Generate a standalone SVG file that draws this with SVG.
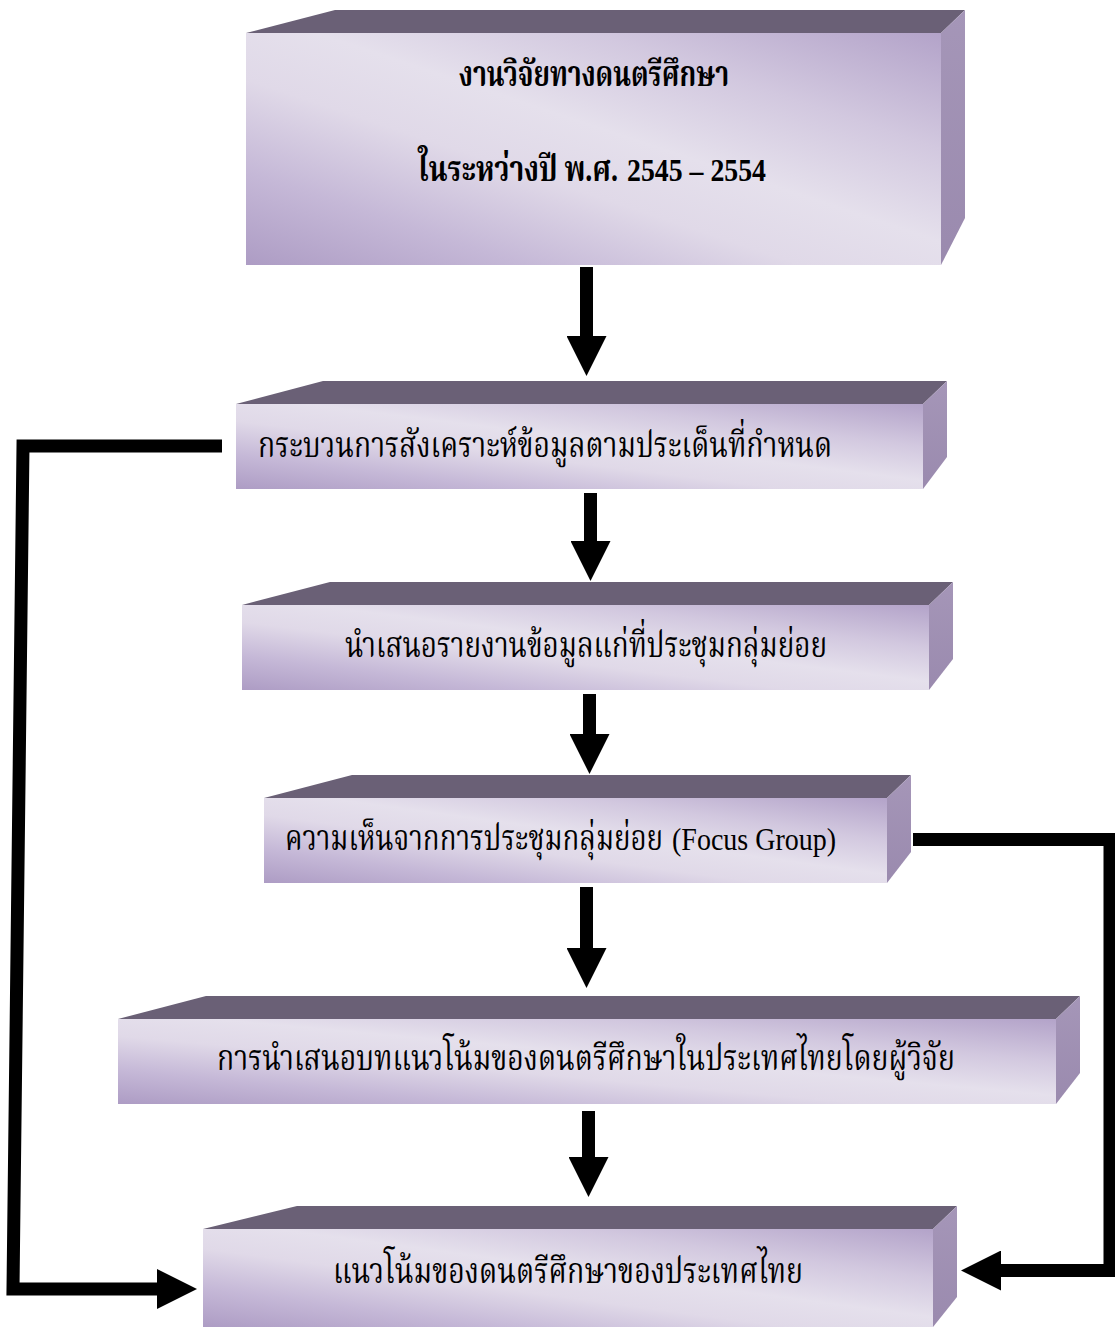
<svg xmlns="http://www.w3.org/2000/svg" width="1115" height="1327" viewBox="0 0 1115 1327">
<defs>
<linearGradient id="front" x1="0" y1="1" x2="1" y2="0">
<stop offset="0" stop-color="#ad9cc4"/>
<stop offset="0.2" stop-color="#c5b8d7"/>
<stop offset="0.4" stop-color="#e0d9e8"/>
<stop offset="0.55" stop-color="#e5e0ec"/>
<stop offset="0.75" stop-color="#d2c8df"/>
<stop offset="1" stop-color="#b3a3c9"/>
</linearGradient>
<linearGradient id="side" x1="0" y1="0" x2="0" y2="1">
<stop offset="0" stop-color="#a596b8"/>
<stop offset="1" stop-color="#9a8aae"/>
</linearGradient>
<marker id="head" markerUnits="userSpaceOnUse" markerWidth="40" markerHeight="40" refX="0" refY="20" orient="auto" viewBox="0 0 40 40">
<path d="M0,0 L40,20 L0,40 Z" fill="#000"/>
</marker>
</defs>
<style>
.front{fill:url(#front);}
.top{fill:#6a6076;}
.side{fill:url(#side);}
.lbl{font-family:"Liberation Serif","Noto Serif Thai","Noto Sans Thai Looped","Noto Sans Thai",serif;font-size:36px;fill:#000;}
.lat{font-size:32px;}
.b{font-weight:bold;}
.conn{fill:none;stroke:#000;stroke-width:13;stroke-linejoin:miter;marker-end:url(#head);}
</style>
<rect width="1115" height="1327" fill="#fff"/>

<g id="node1">
<polygon class="top" points="246,33 335,10 965,10 941,33"/>
<polygon class="side" points="941,33 965,10 965,218 941,265"/>
<rect class="front" x="246" y="33" width="695" height="232"/>
<text class="lbl b" x="459" y="86" textLength="270" lengthAdjust="spacingAndGlyphs">งานวิจัยทางดนตรีศึกษา</text>
<text class="lbl b" x="418" y="181" textLength="200" lengthAdjust="spacingAndGlyphs">ในระหว่างปี พ.ศ.</text>
<text class="lbl lat b" x="627" y="181" textLength="139" lengthAdjust="spacingAndGlyphs">2545 – 2554</text>
</g>

<g id="node2">
<polygon class="top" points="236,404 323,381 947,381 923,404"/>
<polygon class="side" points="923,404 947,381 947,457 923,489"/>
<rect class="front" x="236" y="404" width="687" height="85"/>
<text class="lbl" x="258" y="457" textLength="574" lengthAdjust="spacingAndGlyphs">กระบวนการสังเคราะห์ข้อมูลตามประเด็นที่กำหนด</text>
</g>

<g id="node3">
<polygon class="top" points="242,605 330,582 953,582 929,605"/>
<polygon class="side" points="929,605 953,582 953,659 929,690"/>
<rect class="front" x="242" y="605" width="687" height="85"/>
<text class="lbl" x="345" y="657" textLength="482" lengthAdjust="spacingAndGlyphs">นำเสนอรายงานข้อมูลแก่ที่ประชุมกลุ่มย่อย</text>
</g>

<g id="node4">
<polygon class="top" points="264,798 352,775 911,775 887,798"/>
<polygon class="side" points="887,798 911,775 911,852 887,883"/>
<rect class="front" x="264" y="798" width="623" height="85"/>
<text class="lbl" x="285" y="850" textLength="378" lengthAdjust="spacingAndGlyphs">ความเห็นจากการประชุมกลุ่มย่อย</text>
<text class="lbl lat" x="672" y="850" textLength="164" lengthAdjust="spacingAndGlyphs">(Focus Group)</text>
</g>

<g id="node5">
<polygon class="top" points="118,1019 206,996 1080,996 1056,1019"/>
<polygon class="side" points="1056,1019 1080,996 1080,1073 1056,1104"/>
<rect class="front" x="118" y="1019" width="938" height="85"/>
<text class="lbl" x="217" y="1070" textLength="738" lengthAdjust="spacingAndGlyphs">การนำเสนอบทแนวโน้มของดนตรีศึกษาในประเทศไทยโดยผู้วิจัย</text>
</g>

<g id="node6">
<polygon class="top" points="203,1229 297,1206 957,1206 933,1229"/>
<polygon class="side" points="933,1229 957,1206 957,1297 933,1327"/>
<rect class="front" x="203" y="1229" width="730" height="98"/>
<text class="lbl" x="333" y="1283" textLength="470" lengthAdjust="spacingAndGlyphs">แนวโน้มของดนตรีศึกษาของประเทศไทย</text>
</g>

<g id="connectors">
<path class="conn" d="M586.5,267 L586.5,336"/>
<path class="conn" d="M590.5,493 L590.5,541"/>
<path class="conn" d="M589.5,694 L589.5,734"/>
<path class="conn" d="M586.5,887 L586.5,948"/>
<path class="conn" d="M588.5,1111 L588.5,1157"/>
<path class="conn" d="M222,446 L23,446 L13,1289 L157,1289"/>
<path class="conn" d="M913,839.5 L1110,839.5 L1110,1270.5 L1001,1270.5"/>
</g>
</svg>
